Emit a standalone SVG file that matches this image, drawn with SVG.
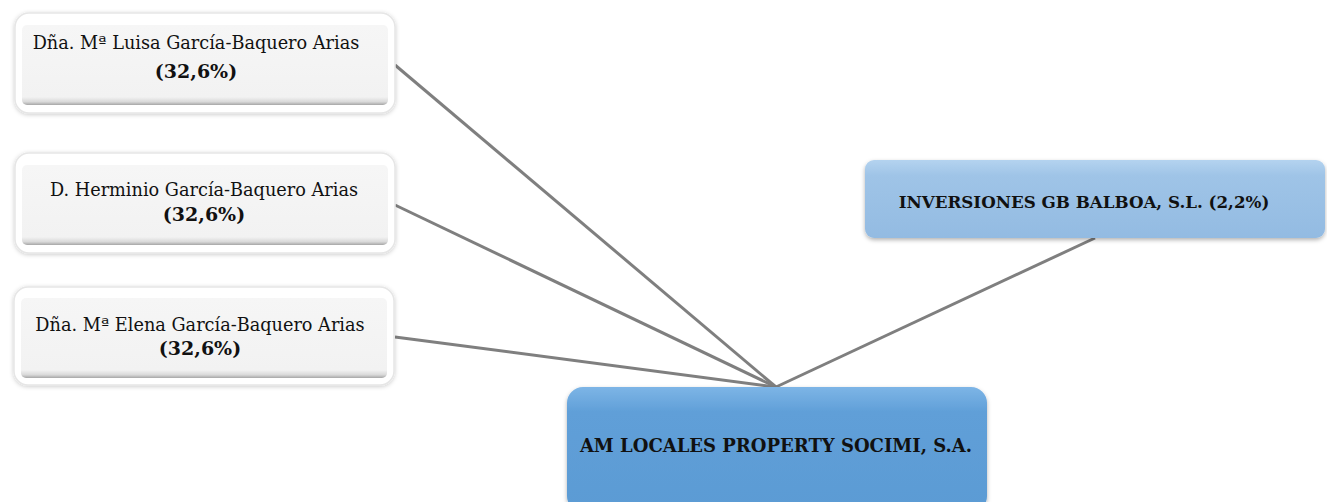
<svg xmlns="http://www.w3.org/2000/svg" width="1327" height="502" viewBox="0 0 1327 502">
<style>
.t{font-family:"DejaVu Serif","Liberation Serif",serif;font-size:17.7px;fill:#111;text-anchor:middle}
.p{font-weight:bold;font-size:19px}
.b{font-weight:bold}
.frame{fill:#fff;stroke:#e6e6e6;stroke-width:1.5}
.inner{fill:url(#gray)}
.con{stroke:#7f7f7f;stroke-width:3;fill:none}
</style>
<defs>
<linearGradient id="gray" x1="0" y1="0" x2="0" y2="1">
<stop offset="0" stop-color="#f6f6f6"/><stop offset="0.9" stop-color="#f2f2f2"/><stop offset="0.96" stop-color="#d9d9d9"/><stop offset="1" stop-color="#a6a6a6"/>
</linearGradient>
<linearGradient id="blue1" x1="0" y1="0" x2="0" y2="1">
<stop offset="0" stop-color="#b4d3ef"/><stop offset="0.2" stop-color="#9fc4e7"/><stop offset="1" stop-color="#93bbe2"/>
</linearGradient>
<linearGradient id="blue2" x1="0" y1="0" x2="0" y2="1">
<stop offset="0" stop-color="#7db5e6"/><stop offset="0.2" stop-color="#609fd8"/><stop offset="1" stop-color="#5b9bd4"/>
</linearGradient>
<filter id="sh" x="-5%" y="-10%" width="110%" height="130%">
<feDropShadow dx="0" dy="2" stdDeviation="2" flood-color="#000" flood-opacity="0.3"/>
</filter>
<filter id="sh2" x="-5%" y="-10%" width="110%" height="130%">
<feDropShadow dx="0" dy="1" stdDeviation="2" flood-color="#000" flood-opacity="0.2"/>
</filter>
</defs>
<g id="connectors">
<line class="con" x1="395" y1="65" x2="776" y2="387"/>
<line class="con" x1="395" y1="205" x2="776" y2="387"/>
<line class="con" x1="395" y1="337" x2="776" y2="387"/>
<line class="con" x1="1095" y1="238" x2="776" y2="387"/>
</g>
<g id="n1">
<rect class="frame" x="15" y="13" width="380" height="100" rx="14" filter="url(#sh2)"/>
<rect class="inner" x="22" y="25" width="366" height="80" rx="5"/>
<text class="t" x="196" y="49">Dña. Mª Luisa García-Baquero Arias</text>
<text class="t p" x="196" y="78">(32,6%)</text>
</g>
<g id="n2">
<rect class="frame" x="15" y="153" width="380" height="100" rx="14" filter="url(#sh2)"/>
<rect class="inner" x="22" y="165" width="366" height="80" rx="5"/>
<text class="t" x="204" y="196">D. Herminio García-Baquero Arias</text>
<text class="t p" x="204" y="221">(32,6%)</text>
</g>
<g id="n3">
<rect class="frame" x="14" y="287" width="380" height="98" rx="14" filter="url(#sh2)"/>
<rect class="inner" x="21" y="298" width="366" height="80" rx="5"/>
<text class="t" x="200" y="331">Dña. Mª Elena García-Baquero Arias</text>
<text class="t p" x="200" y="355">(32,6%)</text>
</g>
<g id="n4">
<rect x="865" y="160" width="460" height="78" rx="9" fill="url(#blue1)" filter="url(#sh)"/>
<text class="t b" x="1084" y="208" style="font-size:16.7px">INVERSIONES GB BALBOA, S.L. (2,2%)</text>
</g>
<g id="n5">
<rect x="567" y="387" width="420" height="125" rx="16" fill="url(#blue2)" filter="url(#sh)"/>
<text class="t b" x="776" y="452" style="font-size:18px">AM LOCALES PROPERTY SOCIMI, S.A.</text>
</g>
</svg>
